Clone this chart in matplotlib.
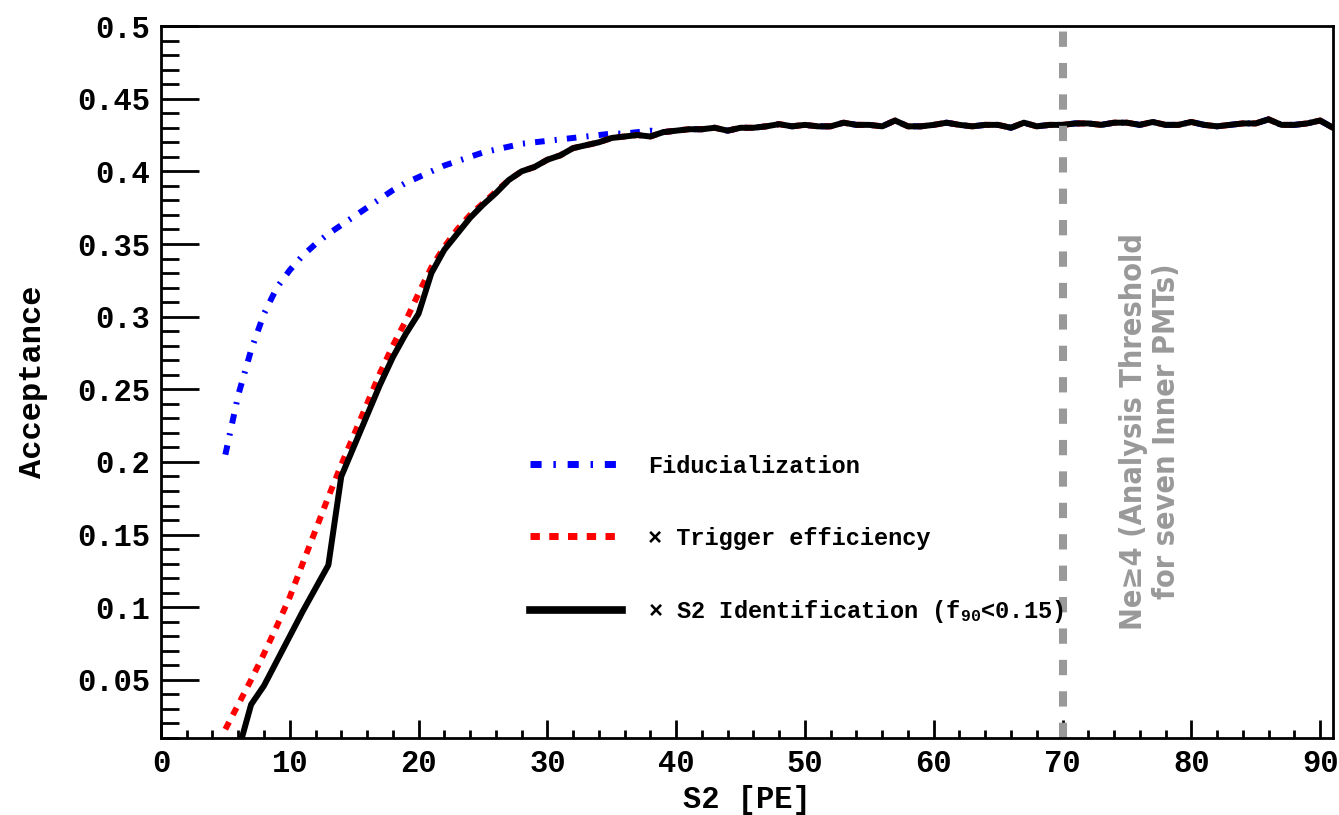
import matplotlib
matplotlib.use("Agg")
import matplotlib.pyplot as plt
from matplotlib.lines import Line2D
from matplotlib.ticker import MultipleLocator, FixedLocator

plt.rcParams["mathtext.fontset"] = "custom"
plt.rcParams["mathtext.rm"] = "Liberation Mono:bold"
plt.rcParams["mathtext.it"] = "Liberation Mono:bold"
plt.rcParams["mathtext.bf"] = "Liberation Mono:bold"

# S2 identification (black), one value per integer S2 from 6 to 91
black_x = list(range(6, 92))
black_y = [0.001, 0.033, 0.046, 0.063, 0.080, 0.097, 0.113, 0.129, 0.190, 0.211,
           0.232, 0.253, 0.272, 0.288, 0.302, 0.330, 0.346, 0.357, 0.368, 0.377,
           0.385, 0.394, 0.400, 0.403, 0.408, 0.411, 0.416, 0.418, 0.420, 0.423,
           0.424, 0.425, 0.424, 0.427, 0.428, 0.429, 0.429, 0.430, 0.428, 0.430,
           0.430, 0.431, 0.4325, 0.431, 0.432, 0.431, 0.431, 0.4335, 0.432, 0.432,
           0.431, 0.435, 0.431, 0.431, 0.432, 0.4335, 0.432, 0.431, 0.432, 0.432,
           0.430, 0.4335, 0.431, 0.432, 0.432, 0.433, 0.433, 0.432, 0.4335, 0.4335,
           0.432, 0.434, 0.432, 0.432, 0.434, 0.432, 0.431, 0.432, 0.433, 0.433,
           0.4358, 0.432, 0.432, 0.433, 0.435, 0.430]

# trigger efficiency (red), below 28 PE; above it sits on the black curve
red_low_x = list(range(5, 28))
red_low_y = [0.016, 0.033, 0.050, 0.068, 0.087, 0.107, 0.130, 0.153, 0.176, 0.198,
             0.219, 0.240, 0.261, 0.280, 0.297, 0.316, 0.334, 0.348, 0.360, 0.370,
             0.378, 0.386, 0.394]

# fiducialization (blue), below 39 PE; above it sits on the black curve
blue_low_x = list(range(5, 39))
blue_low_y = [0.205, 0.246, 0.277, 0.302, 0.320, 0.332, 0.342, 0.350, 0.357, 0.363,
              0.369, 0.375, 0.381, 0.387, 0.392, 0.396, 0.400, 0.404, 0.407, 0.410,
              0.413, 0.415, 0.417, 0.419, 0.420, 0.421, 0.422, 0.423, 0.424, 0.425,
              0.426, 0.426, 0.427, 0.428]

threshold = 70
y_ticks = [0.05, 0.1, 0.15, 0.2, 0.25, 0.3, 0.35, 0.4, 0.45, 0.5]
y_labels = ["0.05", "0.1", "0.15", "0.2", "0.25", "0.3", "0.35", "0.4", "0.45", "0.5"]
x_ticks = [0, 10, 20, 30, 40, 50, 60, 70, 80, 90]

labels = ["Fiducialization",
          "\u00d7 Trigger efficiency",
          "\u00d7 S2 Identification (f$_{90}$<0.15)"]

mono = "Liberation Mono"

red_x = red_low_x + black_x[black_x.index(28):]
red_y = red_low_y + black_y[black_x.index(28):]
blue_x = blue_low_x + black_x[black_x.index(39):]
blue_y = blue_low_y + black_y[black_x.index(39):]

blue_dash = (1.6, 1.7, 0.35, 1.7)
red_dash = (1.35, 1.35)

fig = plt.figure(figsize=(13.39, 8.15), dpi=100)
ax = fig.add_axes([0.1202, 0.0945, 0.8753, 0.8735])

lw = 4.3
ax.plot(blue_x, blue_y, color="#0000ff", lw=lw, dashes=blue_dash, dash_capstyle="butt")
ax.plot(red_x, red_y, color="#ff0000", lw=lw, dashes=red_dash, dash_capstyle="butt")
ax.plot(black_x, black_y, color="black", lw=lw)

ax.axvline(threshold, color="#999999", lw=5.8, dashes=(1.9, 2.0), dash_capstyle="butt")
ax.text(76.8, 0.221, "Ne\u22654 (Analysis Threshold\nfor seven Inner PMTs)",
        rotation=90, ha="center", va="center", color="#999999",
        fontsize=22, fontweight="bold", fontstretch="condensed",
        family=["DejaVu Sans"], linespacing=1.15)

ax.set_xlim(0, 91)
ax.set_ylim(0.01, 0.5)

ax.xaxis.set_major_locator(FixedLocator(x_ticks))
ax.xaxis.set_minor_locator(MultipleLocator(2))
ax.yaxis.set_major_locator(FixedLocator(y_ticks))
ax.set_yticklabels(y_labels)
ax.yaxis.set_minor_locator(MultipleLocator(0.01))

ax.tick_params(axis="both", which="both", direction="in", top=False, right=False,
               width=2)
ax.tick_params(axis="y", which="major", length=27)
ax.tick_params(axis="y", which="minor", length=13)
ax.tick_params(axis="x", which="major", length=13)
ax.tick_params(axis="x", which="minor", length=6)
ax.tick_params(axis="both", labelsize=22, pad=8)
for lab in ax.get_xticklabels() + ax.get_yticklabels():
    lab.set_family(mono)
    lab.set_fontweight("bold")
for sp in ax.spines.values():
    sp.set_linewidth(2)

ax.set_xlabel("S2 [PE]", family=mono, fontweight="bold", fontsize=22, labelpad=4)
ax.set_ylabel("Acceptance", family=mono, fontweight="bold", fontsize=23, labelpad=21)

handles = [
    Line2D([], [], color="#0000ff", lw=5, dashes=blue_dash, dash_capstyle="butt"),
    Line2D([], [], color="#ff0000", lw=5, dashes=red_dash, dash_capstyle="butt"),
    Line2D([], [], color="black", lw=5.5),
]
ax.legend(handles, labels, loc="upper left", bbox_to_anchor=(0.315, 0.398),
          frameon=False, borderpad=0, borderaxespad=0, handlelength=3.9,
          handletextpad=1.1, labelspacing=2.07,
          prop={"family": mono, "weight": "bold", "size": 17})

fig.savefig("out.png", dpi=100)
